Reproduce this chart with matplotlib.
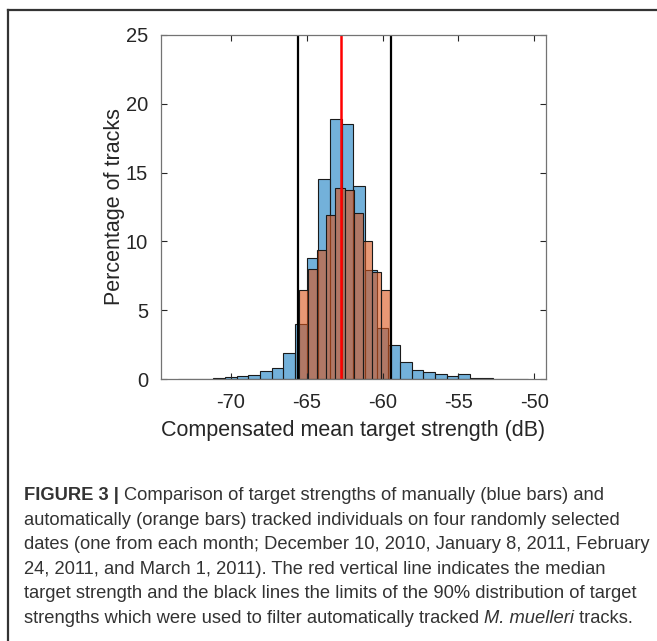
import matplotlib
matplotlib.use("Agg")
import matplotlib.pyplot as plt
import numpy as np
from matplotlib.lines import Line2D

plt.rcParams['font.family'] = ['Liberation Sans', 'DejaVu Sans']
plt.rcParams['axes.unicode_minus'] = False

# manually tracked (blue) histogram, percentage per bin
blue_start = -73.45
blue_width = 0.7685
blue_pct = [0.02, 0.01, 0.01, 0.08, 0.15, 0.22, 0.28, 0.57, 0.80, 1.87,
            4.0, 8.8, 14.5, 18.9, 18.5, 14.0, 7.9, 3.7, 2.47, 1.26,
            0.68, 0.51, 0.35, 0.24, 0.36, 0.04, 0.04, 0.01, 0.01, 0.03]

# automatically tracked (orange) histogram
orange_start = -65.5
orange_width = 0.6
orange_pct = [6.5, 8.0, 9.4, 11.9, 13.9, 13.7, 12.1, 10.0, 7.8, 6.5]

median_ts = -62.75
limits_90 = [-65.55, -59.45]

x_ticks = [-70, -65, -60, -55, -50]
y_ticks = [0, 5, 10, 15, 20, 25]

caption = [
    [("FIGURE 3 | ", "bold", "normal"),
     ("Comparison of target strengths of manually (blue bars) and", "normal", "normal")],
    [("automatically (orange bars) tracked individuals on four randomly selected", "normal", "normal")],
    [("dates (one from each month; December 10, 2010, January 8, 2011, February", "normal", "normal")],
    [("24, 2011, and March 1, 2011). The red vertical line indicates the median", "normal", "normal")],
    [("target strength and the black lines the limits of the 90% distribution of target", "normal", "normal")],
    [("strengths which were used to filter automatically tracked ", "normal", "normal"),
     ("M. muelleri", "normal", "italic"),
     (" tracks.", "normal", "normal")],
]

blue = (0.0, 0.447, 0.741, 0.55)
orange = (0.85, 0.325, 0.098, 0.6)
edge = (0.1, 0.1, 0.1)
axcol = (0.15, 0.15, 0.15)

fig = plt.figure(figsize=(6.57, 6.41), dpi=100)
ax = fig.add_axes([0.2446, 0.4087, 0.586, 0.5367])

b_edges = blue_start + blue_width * np.arange(len(blue_pct))
o_edges = orange_start + orange_width * np.arange(len(orange_pct))
ax.bar(b_edges, blue_pct, width=blue_width, align='edge',
       facecolor=blue, edgecolor=edge, linewidth=0.8)
ax.bar(o_edges, orange_pct, width=orange_width, align='edge',
       facecolor=orange, edgecolor=edge, linewidth=0.8)

for xv in limits_90:
    ax.axvline(xv, color='black', linewidth=1.6)
ax.axvline(median_ts, color='red', linewidth=1.8)

ax.set_xlim(-74.61, -49.25)
ax.set_ylim(0, 25)
ax.set_xticks(x_ticks)
ax.set_yticks(y_ticks)
ax.tick_params(direction='in', top=True, right=True, length=4, width=0.8,
               colors=axcol, labelsize=14.5)
ax.tick_params(axis='x', pad=10)
ax.tick_params(axis='y', pad=9)
for s in ax.spines.values():
    s.set_color((0.45, 0.45, 0.45))
    s.set_linewidth(0.9)
ax.set_xlabel("Compensated mean target strength (dB)", fontsize=15.5,
              color=axcol, labelpad=6)
ax.set_ylabel("Percentage of tracks", fontsize=15.5, color=axcol, labelpad=1)

# frame lines (top and left) around the figure
fig.add_artist(Line2D([8 / 657, 8 / 657], [0, 1 - 10 / 641], color='#333333', linewidth=1.6))
fig.add_artist(Line2D([8 / 657, 1], [1 - 10 / 641, 1 - 10 / 641], color='#333333', linewidth=1.6))

# caption, placed segment by segment
fig.canvas.draw()
renderer = fig.canvas.get_renderer()
cap_size = 13.2
x0 = 24 / 657
base0 = 500
spacing = 24.6
for i, line in enumerate(caption):
    y = 1 - (base0 + i * spacing) / 641
    x = x0
    for txt, weight, style in line:
        t = fig.text(x, y, txt, fontsize=cap_size, fontweight=weight,
                     fontstyle=style, color='#333333', va='baseline', ha='left')
        bb = t.get_window_extent(renderer)
        x = x + bb.width / fig.bbox.width

fig.savefig("out.png", dpi=100)
